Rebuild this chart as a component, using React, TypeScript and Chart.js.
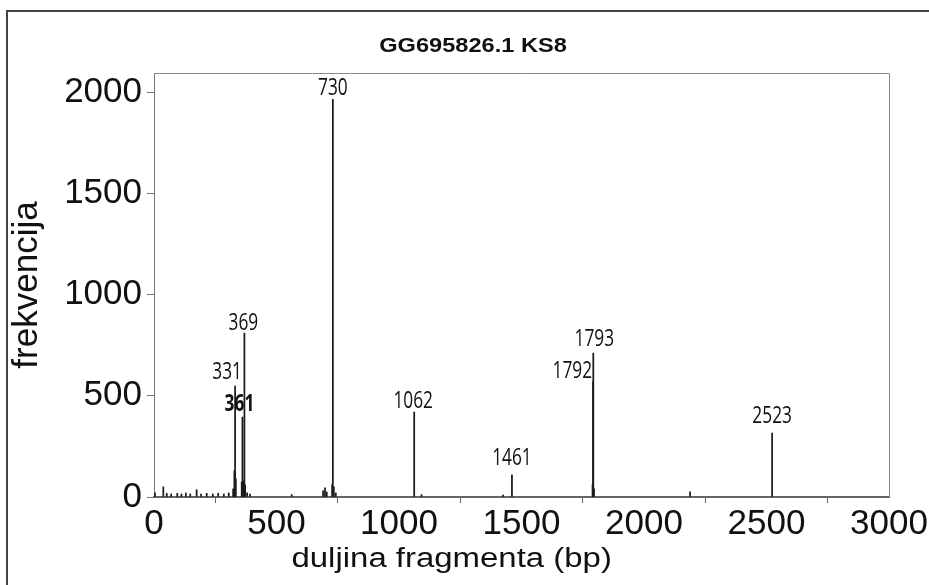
import React, { useEffect, useRef } from 'react';
import { Chart, registerables } from 'chart.js';

Chart.register(...registerables);

// ---------- text ----------
const CHART_TITLE = 'GG695826.1 KS8';
const X_TITLE = 'duljina fragmenta (bp)';
const Y_TITLE = 'frekvencija';

// ---------- axes ----------
const xTickValues = [0, 500, 1000, 1500, 2000, 2500, 3000];
const yTickValues = [0, 500, 1000, 1500, 2000];
const X_MIN = 0;
const X_MAX = 3000;
const Y_MIN = 0;
const Y_MAX = 2095;

// ---------- data: fragment length (bp) and frequency ----------
const fragmentSizes = [
  4, 38, 52, 70, 95, 112, 130, 148, 174, 192, 215, 240, 262, 285, 305,
  323, 328, 331, 334, 358, 361, 365, 369, 372, 380, 392,
  562, 690, 698, 705, 727, 730, 734, 742,
  1062, 1092, 1425, 1461, 1790, 1792, 1793, 1796, 2188, 2523,
];
const frequencies = [
  20, 50, 18, 15, 18, 15, 20, 15, 36, 15, 18, 15, 18, 15, 20,
  40, 130, 548, 90, 75, 395, 80, 810, 60, 20, 15,
  12, 30, 45, 25, 60, 1965, 50, 20,
  420, 12, 10, 109, 60, 570, 711, 40, 25, 316,
];

// ---------- peak labels ----------
const peakLabelTexts = ['730', '369', '331', '361', '1062', '1461', '1793', '1792', '2523'];
const peakLabelSizes = [730, 369, 331, 361, 1062, 1461, 1793, 1792, 2523];
const peakLabelFreqs = [1965, 810, 548, 395, 420, 109, 711, 570, 316];

// label styling (pixel nudges / alignment / weight), kept separate from data
const LABEL_STYLE = [
  { dx: 0, gap: 4, align: 'center', bold: false },
  { dx: -1, gap: 3, align: 'center', bold: false },
  { dx: -8, gap: 7, align: 'center', bold: false },
  { dx: -3, gap: 6, align: 'center', bold: true },
  { dx: -1, gap: 4, align: 'center', bold: false },
  { dx: 0, gap: 10, align: 'center', bold: false },
  { dx: 1, gap: 7, align: 'center', bold: false },
  { dx: -1, gap: 4, align: 'right', bold: false },
  { dx: 0, gap: 10, align: 'center', bold: false },
];

const SANS = "'Liberation Sans', Arial, Helvetica, sans-serif";
const LABEL_FONT = "'Open Sans', 'Noto Sans', sans-serif";

const W = 929;
const H = 585;

const framePlugin = {
  id: 'framePlugin',
  beforeDraw(chart: any) {
    const ctx = chart.ctx;
    ctx.save();
    ctx.fillStyle = '#ffffff';
    ctx.fillRect(0, 0, chart.width, chart.height);
    ctx.strokeStyle = '#444444';
    ctx.lineWidth = 2;
    ctx.beginPath();
    ctx.moveTo(7, chart.height + 2);
    ctx.lineTo(7, 11);
    ctx.lineTo(chart.width + 4, 11);
    ctx.stroke();
    ctx.restore();
  },
  afterDraw(chart: any) {
    const ctx = chart.ctx;
    const a = chart.chartArea;
    ctx.save();
    // plot box top & right
    ctx.strokeStyle = '#8a8a8a';
    ctx.lineWidth = 1;
    ctx.beginPath();
    ctx.moveTo(a.left, a.top + 0.5);
    ctx.lineTo(a.right + 0.5, a.top + 0.5);
    ctx.lineTo(a.right + 0.5, a.bottom);
    ctx.stroke();

    // chart title
    ctx.fillStyle = '#111111';
    ctx.textAlign = 'center';
    ctx.textBaseline = 'alphabetic';
    ctx.save();
    ctx.translate(473, 52);
    ctx.scale(1.18, 1);
    ctx.font = `bold 20px ${SANS}`;
    ctx.fillText(CHART_TITLE, 0, 0);
    ctx.restore();

    // x-axis title
    ctx.save();
    ctx.translate(a.left + (a.right - a.left) * 0.405, 567);
    ctx.scale(1.22, 1);
    ctx.font = `27px ${SANS}`;
    ctx.fillText(X_TITLE, 0, 0);
    ctx.restore();

    // peak labels
    const xs = chart.scales.x;
    const ys = chart.scales.y;
    peakLabelTexts.forEach((t, i) => {
      const st = LABEL_STYLE[i];
      const px = xs.getPixelForValue(peakLabelSizes[i]) + st.dx;
      const py = ys.getPixelForValue(peakLabelFreqs[i]) - st.gap;
      ctx.save();
      ctx.translate(px, py);
      ctx.scale(0.72, 1);
      ctx.font = `${st.bold ? 'bold ' : ''}24px ${LABEL_FONT}`;
      ctx.textAlign = st.align;
      ctx.textBaseline = 'alphabetic';
      ctx.fillStyle = '#111111';
      ctx.fillText(t, 0, 0);
      ctx.restore();
    });
    ctx.restore();
  },
};

export default function App() {
  const ref = useRef<HTMLCanvasElement>(null);

  useEffect(() => {
    const canvas = ref.current;
    if (!canvas) return;
    const chart = new Chart(canvas, {
      type: 'bar',
      data: {
        datasets: [
          {
            data: fragmentSizes.map((s, i) => ({ x: s, y: frequencies[i] })),
            backgroundColor: '#1c1c1c',
            borderWidth: 0,
            barThickness: 1.1,
          } as any,
        ],
      },
      options: {
        responsive: false,
        animation: false,
        events: [],
        layout: { padding: { top: 73, right: 40, bottom: 8, left: 0 } },
        plugins: {
          legend: { display: false },
          title: { display: false },
          tooltip: { enabled: false },
        },
        scales: {
          x: {
            type: 'linear',
            min: X_MIN,
            max: X_MAX,
            offset: false,
            afterBuildTicks: (s: any) => {
              s.ticks = xTickValues.map((v) => ({ value: v }));
            },
            ticks: {
              autoSkip: false,
              maxRotation: 0,
              padding: 0,
              color: '#111111',
              font: { family: SANS, size: 35 },
              callback: (v: any) => String(v),
            },
            grid: { drawOnChartArea: false, tickLength: 6, color: '#666666' },
            border: { color: '#666666', width: 2 },
            afterFit: (s: any) => {
              s.height = H - 497 - 8;
            },
          },
          y: {
            type: 'linear',
            min: Y_MIN,
            max: Y_MAX,
            afterBuildTicks: (s: any) => {
              s.ticks = yTickValues.map((v) => ({ value: v }));
            },
            ticks: {
              padding: 5,
              color: '#111111',
              font: { family: SANS, size: 35 },
              callback: (v: any) => String(v),
            },
            grid: { drawOnChartArea: false, tickLength: 7, color: '#777777' },
            border: { color: '#777777', width: 1 },
            title: {
              display: true,
              text: Y_TITLE,
              color: '#111111',
              font: { family: SANS, size: 35 },
              padding: { top: 6, bottom: 0 },
            },
            afterFit: (s: any) => {
              s.width = 154;
            },
          },
        },
      } as any,
      plugins: [framePlugin as any],
    });
    return () => chart.destroy();
  }, []);

  return (
    <div style={{ position: 'absolute', left: 0, top: 0, width: W, height: H, background: '#fff' }}>
      <canvas ref={ref} width={W} height={H} style={{ display: 'block', width: W, height: H }} />
    </div>
  );
}
